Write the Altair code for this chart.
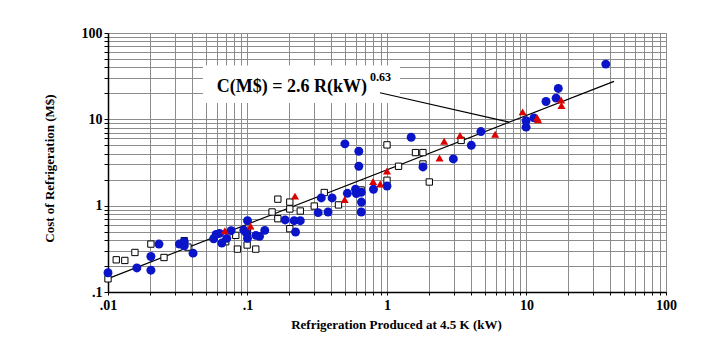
import altair as alt
import pandas as pd

# ---- data ----
circle_x = [0.01, 0.0161, 0.0203, 0.0203, 0.0232, 0.0325, 0.0352, 0.0352, 0.0407,
            0.0572, 0.0596, 0.063, 0.0654, 0.071, 0.0763, 0.094, 0.098, 0.1, 0.1,
            0.115, 0.122, 0.133, 0.186, 0.216, 0.239, 0.221, 0.321, 0.338, 0.378,
            0.404, 0.499, 0.52, 0.595, 0.603, 0.628, 0.628, 0.654, 0.656, 0.654,
            0.80, 1.0, 1.49, 1.81, 2.99, 4.02, 4.71, 9.93, 9.93, 11.3, 13.8, 16.3,
            16.9, 37.0]
circle_y = [0.167, 0.19, 0.258, 0.179, 0.359, 0.359, 0.382, 0.343, 0.282,
            0.414, 0.465, 0.477, 0.369, 0.418, 0.513, 0.522, 0.486, 0.67, 0.418,
            0.453, 0.441, 0.517, 0.683, 0.67, 0.67, 0.495, 0.83, 1.23, 0.845,
            1.23, 5.2, 1.39, 1.55, 1.38, 4.27, 2.86, 1.43, 1.1, 0.845,
            1.55, 1.69, 6.2, 2.81, 3.48, 5.0, 7.22, 9.62, 8.12, 10.4, 16.1, 17.6,
            22.8, 43.6]

tri_x = [0.0688, 0.105, 0.219, 0.497, 0.795, 0.894, 1.0, 2.38, 2.57, 3.34, 5.96,
         9.38, 11.9, 12.1, 17.7, 17.8]
tri_y = [0.513, 0.58, 1.29, 1.18, 1.9, 1.78, 2.52, 3.57, 5.58, 6.5, 6.72,
         12.2, 10.4, 9.86, 16.7, 14.5]

sq_x = [0.01, 0.01146, 0.0132, 0.0156, 0.0203, 0.0252, 0.0352, 0.0374, 0.0698,
        0.0824, 0.0847, 0.0994, 0.1, 0.1146, 0.15, 0.165, 0.165, 0.201, 0.201,
        0.201, 0.239, 0.301, 0.355, 0.449, 0.652, 1.0, 1.0, 1.21, 1.6, 1.81,
        1.81, 2.01, 3.4]
sq_y = [0.142, 0.236, 0.232, 0.287, 0.359, 0.251, 0.393, 0.331, 0.382,
        0.453, 0.314, 0.35, 0.495, 0.314, 0.845, 1.19, 0.706, 1.1, 0.915,
        0.541, 0.867, 0.99, 1.42, 1.02, 1.52, 5.06, 1.97, 2.86, 4.12, 4.12,
        3.04, 1.88, 5.7]

fit_coef = 2.6
fit_exp = 0.63
fit_range = [0.01, 42.4]

x_ticks = [d * m for d in [0.01, 0.1, 1, 10] for m in range(1, 10)] + [100]
y_ticks = [d * m for d in [0.1, 1, 10] for m in range(1, 10)] + [100]

# annotation (data coordinates)
box_x = [0.048, 1.24]
box_y = [15.5, 42.0]
label_main = "C(M$) = 2.6 R(kW)"
label_sup = "0.63"
label_pos = [0.0601, 20.5]
sup_pos = [0.755, 27.8]
leader_x = [0.89, 7.5]
leader_y = [20.3, 9.3]

# ---- frames ----
circles = pd.DataFrame({"x": circle_x, "y": circle_y})
tris = pd.DataFrame({"x": tri_x, "y": tri_y})
squares = pd.DataFrame({"x": sq_x, "y": sq_y})
fit = pd.DataFrame({"x": fit_range})

FONT = "Liberation Serif"
GRID = "#8c8c8c"
label_expr = ("datum.value == 0.01 ? '.01' : datum.value == 0.1 ? '.1' : "
              "(datum.value == 1 || datum.value == 10 || datum.value == 100) ? datum.label : ''")

xs = alt.Scale(type="log", domain=[0.01, 100], nice=False)
ys = alt.Scale(type="log", domain=[0.1, 100], nice=False)

x_axis = alt.Axis(values=x_ticks, labelExpr=label_expr, grid=True, gridColor=GRID,
                  gridOpacity=1, gridWidth=1, tickSize=3, tickColor="black",
                  domainColor="black", domainWidth=1.5,
                  labelFont=FONT, labelFontWeight="bold", labelFontSize=14,
                  labelColor="black", labelPadding=3, labelFlush=False,
                  title="Refrigeration Produced at 4.5 K (kW)", titleFont=FONT,
                  titleFontSize=13, titleFontWeight="bold", titleColor="black",
                  titlePadding=6, titleX=288)
y_axis = alt.Axis(values=y_ticks, labelExpr=label_expr, grid=True, gridColor=GRID,
                  gridOpacity=1, gridWidth=1, tickSize=4, tickColor="black",
                  domainColor="black", domainWidth=1.5,
                  labelFont=FONT, labelFontWeight="bold", labelFontSize=14,
                  labelColor="black", labelPadding=2, labelFlush=False,
                  title="Cost of Refrigeration (M$)", titleFont=FONT,
                  titleFontSize=13, titleFontWeight="bold", titleColor="black",
                  titlePadding=25, titleY=135)

grid_layer = alt.Chart(fit).transform_calculate(
    y=f"{fit_coef} * pow(datum.x, {fit_exp})"
).mark_point(opacity=0).encode(
    x=alt.X("x:Q", scale=xs, axis=x_axis), y=alt.Y("y:Q", scale=ys, axis=y_axis))

fit_line = alt.Chart(fit).transform_calculate(
    y=f"{fit_coef} * pow(datum.x, {fit_exp})"
).mark_line(color="black", strokeWidth=1.2).encode(
    x=alt.X("x:Q", scale=xs), y=alt.Y("y:Q", scale=ys))

sq_layer = alt.Chart(squares).mark_point(shape="square", filled=True, fill="white",
                                         stroke="black", strokeWidth=1, size=40, opacity=1).encode(
    x=alt.X("x:Q", scale=xs), y=alt.Y("y:Q", scale=ys))
circ_layer = alt.Chart(circles).mark_circle(color="#0a14c8", size=80, opacity=1).encode(
    x=alt.X("x:Q", scale=xs), y=alt.Y("y:Q", scale=ys))
tri_layer = alt.Chart(tris).mark_point(shape="triangle-up", filled=True, color="#dd0000",
                                       size=65, opacity=1).encode(
    x=alt.X("x:Q", scale=xs), y=alt.Y("y:Q", scale=ys))

box_df = pd.DataFrame({"x": [box_x[0]], "x2": [box_x[1]], "y": [box_y[0]], "y2": [box_y[1]]})
box = alt.Chart(box_df).mark_rect(color="white").encode(
    x=alt.X("x:Q", scale=xs), x2="x2", y=alt.Y("y:Q", scale=ys), y2="y2")

leader_df = pd.DataFrame({"x": [leader_x[0]], "x2": [leader_x[1]], "y": [leader_y[0]], "y2": [leader_y[1]]})
leader = alt.Chart(leader_df).mark_rule(color="black", strokeWidth=1.2).encode(
    x=alt.X("x:Q", scale=xs), x2="x2", y=alt.Y("y:Q", scale=ys), y2="y2")

main_df = pd.DataFrame({"x": [label_pos[0]], "y": [label_pos[1]], "t": [label_main]})
main_text = alt.Chart(main_df).mark_text(font=FONT, fontWeight="bold", fontSize=18,
                                         align="left", baseline="alphabetic", color="black").encode(
    x=alt.X("x:Q", scale=xs), y=alt.Y("y:Q", scale=ys), text="t:N")
sup_df = pd.DataFrame({"x": [sup_pos[0]], "y": [sup_pos[1]], "t": [label_sup]})
sup_text = alt.Chart(sup_df).mark_text(font=FONT, fontWeight="bold", fontSize=12,
                                       align="left", baseline="alphabetic", color="black").encode(
    x=alt.X("x:Q", scale=xs), y=alt.Y("y:Q", scale=ys), text="t:N")

chart = alt.layer(
    grid_layer, box, fit_line, leader, sq_layer, circ_layer, tri_layer, main_text, sup_text
).properties(
    width=558, height=259,
    autosize=alt.AutoSizeParams(type="none"),
    padding={"left": 108, "top": 33, "right": 59, "bottom": 46},
    background="white"
).configure_view(stroke="#6e6e6e", strokeWidth=1)

chart.save("out.html", embed_options={"renderer": "svg", "actions": False})
